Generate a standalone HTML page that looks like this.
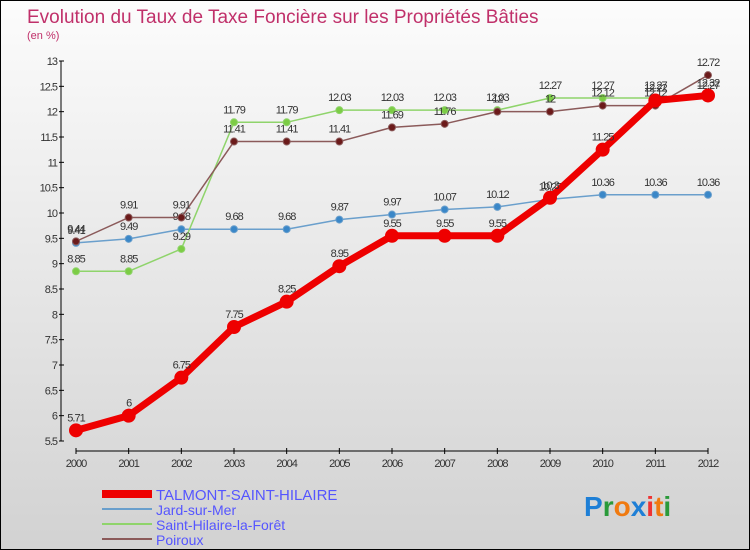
<!DOCTYPE html>
<html><head><meta charset="utf-8"><style>
body{margin:0}
#wrap{width:750px;height:550px;position:relative;box-sizing:border-box;border:1px solid #000;background:linear-gradient(#fcfcfc,#d2d2d2);font-family:"Liberation Sans",sans-serif;overflow:hidden}
</style></head><body>
<div id="wrap">
<svg id="c" width="750" height="550" style="position:absolute;left:0;top:0">
<text x="26" y="22" font-size="19" fill="#c0306a">Evolution du Taux de Taxe Foncière sur les Propriétés Bâties</text>
<text x="26" y="38" font-size="11" fill="#c0306a">(en %)</text>
<g id="plot"></g>
<g>
<rect x="101" y="489" width="50" height="8" fill="#e00"/>
<text x="155" y="499" font-size="15" fill="#5555ff">TALMONT-SAINT-HILAIRE</text>
<rect x="101" y="507" width="50" height="2" fill="#6a9fcc"/>
<text x="155" y="514" font-size="14" fill="#5555ff">Jard-sur-Mer</text>
<rect x="101" y="522" width="50" height="2" fill="#8fd46b"/>
<text x="155" y="529" font-size="14" fill="#5555ff">Saint-Hilaire-la-Forêt</text>
<rect x="101" y="537" width="50" height="2" fill="#8b5a5a"/>
<text x="155" y="544" font-size="14" fill="#5555ff">Poiroux</text>
</g>
<text x="583" y="515" font-size="28" font-weight="bold"><tspan fill="#1e7fd6">P</tspan><tspan fill="#2a9a3a">r</tspan><tspan fill="#f07a10">o</tspan><tspan fill="#1e7fd6">x</tspan><tspan fill="#e33">i</tspan><tspan fill="#f07a10">t</tspan><tspan fill="#2a9a3a">i</tspan></text>
</svg>
</div>
<script>
const years=[2000,2001,2002,2003,2004,2005,2006,2007,2008,2009,2010,2011,2012];
const talmont=[5.71,6,6.75,7.75,8.25,8.95,9.55,9.55,9.55,10.3,11.25,12.22,12.32];
const jard=[9.41,9.49,9.68,9.68,9.68,9.87,9.97,10.07,10.12,10.27,10.36,10.36,10.36];
const shf=[8.85,8.85,9.29,11.79,11.79,12.03,12.03,12.03,12.03,12.27,12.27,12.27,12.27];
const poiroux=[9.44,9.91,9.91,11.41,11.41,11.41,11.69,11.76,12,12,12.12,12.12,12.72];
const yTicks=[5.5,6,6.5,7,7.5,8,8.5,9,9.5,10,10.5,11,11.5,12,12.5,13];
const NS="http://www.w3.org/2000/svg";
const g=document.getElementById('plot');
const x=i=>75+i*(632/(years.length-1));
const y=v=>440-(v-5.5)*(380/7.5);
function mk(t,a){const e=document.createElementNS(NS,t);for(const k in a)e.setAttribute(k,a[k]);g.appendChild(e);return e;}
let e=mk('line',{x1:60,y1:y(13),x2:60,y2:y(5.5),stroke:'#000','stroke-width':1});


e=mk('line',{x1:75,y1:450,x2:707,y2:450,stroke:'#000','stroke-width':1});


yTicks.forEach(v=>{
 mk('line',{x1:58,x2:63,y1:y(v),y2:y(v),stroke:'#000'});
 const t=mk('text',{x:56,y:y(v)+4,'font-size':11,'text-anchor':'end',fill:'#333','letter-spacing':'-1'});t.textContent=v;
 
 
});
years.forEach((yr,i)=>{
 mk('line',{x1:x(i),x2:x(i),y1:447,y2:453,stroke:'#000'});
 const t=mk('text',{x:x(i),y:466,'font-size':11,'text-anchor':'middle',fill:'#333','letter-spacing':'-1'});t.textContent=yr;
 
 
});
function series(arr,name,col,w,r,dot){
 const p=mk('polyline',{points:arr.map((v,i)=>x(i)+','+y(v)).join(' '),fill:'none',stroke:col,'stroke-width':w,'stroke-linejoin':'round'});
 
 
 arr.forEach((v,i)=>{
  const c=mk('circle',{cx:x(i),cy:y(v),r:r,fill:dot,stroke:col,'stroke-width':1});
  
  
  const t=mk('text',{x:x(i),y:y(v)-9,'font-size':11,'text-anchor':'middle',fill:'#333','letter-spacing':'-1'});t.textContent=v;
  
  
 });
}
series(jard,'jard','#6a9fcc',1.5,3.5,'#3a87c8');
series(shf,'saint-hilaire','#8fd46b',1.5,3.5,'#7ccc45');
series(poiroux,'poiroux','#8b5a5a',1.5,3.5,'#6b1a1a');
series(talmont,'talmont','#e00',7,6.5,'#e00');
</script>
</body></html>
